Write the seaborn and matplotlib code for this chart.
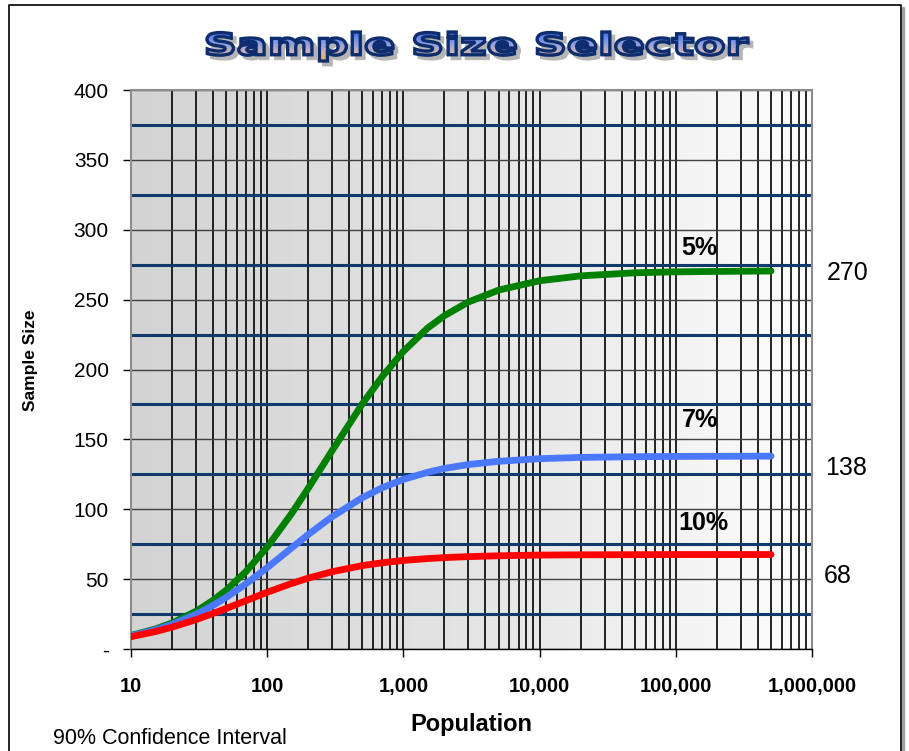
import numpy as np
import pandas as pd
import matplotlib
matplotlib.use('Agg')
import matplotlib.pyplot as plt
import matplotlib.ticker as mticker
from matplotlib.textpath import TextPath
from matplotlib.patches import PathPatch
from matplotlib.font_manager import FontProperties
from matplotlib.colors import LinearSegmentedColormap
from matplotlib.transforms import Affine2D
import seaborn as sns

# --- data ---
population = [10, 15, 20, 30, 40, 50, 70, 100, 150, 200, 300, 500, 700, 1000,
              1500, 2000, 3000, 5000, 10000, 20000, 50000, 100000, 500000]
size_5 = [9.7, 14.2, 18.6, 27.0, 34.8, 42.1, 55.5, 73.0, 96.5, 115.0, 142.0, 175.5,
          195.0, 213.0, 229.5, 238.5, 248.3, 256.8, 263.5, 267.0, 269.2, 269.9, 270.5]
size_7 = [9.4, 13.6, 17.6, 24.8, 31.2, 36.9, 46.7, 58.2, 72.1, 81.9, 94.7, 108.3,
          115.4, 121.4, 126.4, 129.2, 132.0, 134.3, 136.2, 137.1, 137.6, 137.8, 138.0]
size_10 = [8.8, 12.4, 15.6, 21.0, 25.4, 29.0, 34.6, 40.6, 46.8, 50.7, 55.3, 59.7,
           61.7, 63.4, 64.7, 65.4, 66.1, 66.7, 67.2, 67.4, 67.5, 67.6, 67.6]
margins = ['5%', '7%', '10%']
end_values = ['270', '138', '68']
colors = {'5%': '#008000', '7%': '#4a78ff', '10%': '#ff0000'}

df = pd.concat([
    pd.DataFrame({'population': population, 'sample_size': s, 'margin': m})
    for m, s in zip(margins, [size_5, size_7, size_10])
])

sns.set_style('white')
plt.rcParams['font.family'] = ['Liberation Sans', 'DejaVu Sans']
plt.rcParams['text.color'] = 'black'
plt.rcParams['xtick.color'] = 'black'
plt.rcParams['ytick.color'] = 'black'

fig = plt.figure(figsize=(9.09, 7.51), dpi=100)
ax = fig.add_axes([131 / 909, 102 / 751, 681 / 909, 559 / 751])

# background gradient (grey left -> almost white right)
grad = np.linspace(0, 1, 256).reshape(1, -1)
bg = LinearSegmentedColormap.from_list('bg', ['#d3d3d3', '#e4e4e4', '#fdfdfd'])
ax.imshow(grad, extent=[0, 1, 0, 1], transform=ax.transAxes, aspect='auto',
          cmap=bg, zorder=0, interpolation='bilinear')

ax.set_xscale('log')
ax.set_xlim(10, 1e6)
ax.set_ylim(0, 400)

# grid
ax.yaxis.set_major_locator(mticker.MultipleLocator(50))
ax.yaxis.set_minor_locator(mticker.FixedLocator(np.arange(25, 400, 50)))
ax.xaxis.set_major_locator(mticker.LogLocator(base=10))
ax.xaxis.set_minor_locator(mticker.LogLocator(base=10, subs=np.arange(2, 10)))
ax.grid(which='both', axis='x', color='black', lw=1.2, zorder=1)
ax.grid(which='major', axis='y', color='#404040', lw=1.0, zorder=1)
ax.grid(which='minor', axis='y', color='#0f3a6b', lw=2.2, zorder=1)
ax.set_axisbelow(True)

sns.lineplot(data=df, x='population', y='sample_size', hue='margin',
             hue_order=margins, palette=colors, linewidth=4.9, legend=False,
             ax=ax, zorder=3, solid_capstyle='round')

# ticks
ax.xaxis.set_major_formatter(mticker.FuncFormatter(lambda v, p: f'{v:,.0f}'))
ax.yaxis.set_major_formatter(mticker.FuncFormatter(lambda v, p: '-' if v == 0 else f'{v:.0f}'))
ax.tick_params(axis='both', which='major', direction='out', length=6, width=1,
               color='black', bottom=True, left=True)
ax.tick_params(axis='both', which='minor', length=0)
ax.tick_params(axis='x', pad=14, labelsize=14.5)
ax.tick_params(axis='y', pad=10, labelsize=15)
for lab in ax.get_xticklabels():
    lab.set_fontweight('bold')

for side in ['left', 'top', 'right']:
    ax.spines[side].set_color('#8c8c8c')
    ax.spines[side].set_linewidth(1.5)
ax.spines['bottom'].set_color('black')
ax.spines['bottom'].set_linewidth(1.0)

ax.set_xlabel('')
ax.set_ylabel('')

# series labels and end values
label_pos = [(1.5e5, 287), (1.5e5, 164), (1.6e5, 90)]
for (x, y), m in zip(label_pos, margins):
    ax.text(x, y, m, fontsize=18, fontweight='bold', ha='center', va='center')
value_pos = [(848, 269), (846, 129.5), (838, 52.5)]
for (px, y), val in zip(value_pos, end_values):
    ax.annotate(val, xy=(1, y), xycoords=('axes fraction', 'data'),
                xytext=(px - 812, 0), textcoords='offset pixels',
                fontsize=18, ha='center', va='center', annotation_clip=False)

fig.text(471 / 909, 1 - 724 / 751, 'Population', fontsize=17, fontweight='bold',
         family=['Liberation Sans Narrow', 'Liberation Sans'], ha='center', va='center')
fig.text(31 / 909, 1 - 360 / 751, 'Sample Size', fontsize=12.5, fontweight='bold',
         family=['Liberation Sans Narrow', 'Liberation Sans'], rotation=90,
         ha='center', va='center')
fig.text(53 / 909, 1 - 739 / 751, '90% Confidence Interval', fontsize=15.5,
         ha='left', va='center')

# outer frame
ov = fig.add_axes([0, 0, 1, 1], zorder=10)
ov.axis('off')
ov.patch.set_alpha(0)
ov.plot([903, 903], [8, 760], color='#a0a0a0', lw=2.5)
ov.plot([9, 9, 901, 901], [760, 5, 5, 760], color='black', lw=1.2)

# WordArt-style title: gradient fill, navy outline, grey shadow
tp = TextPath((0, 0), 'Sample Size Selector', size=10,
              prop=FontProperties(family='DejaVu Sans', weight='bold'))
bb = tp.get_extents()
x0, x1, y0, y1 = 207, 748, 32, 61
tr = Affine2D().translate(-bb.x0, -bb.y0).scale((x1 - x0) / bb.width,
                                                 -(y1 - y0) / bb.height).translate(x0, y1)
tpath = tr.transform_path(tp)
shadow = PathPatch(Affine2D().translate(4, 4).transform_path(tpath),
                   facecolor='#b5b5b5', edgecolor='#b5b5b5', lw=2.0, zorder=1)
ov.add_patch(shadow)
fill = PathPatch(tpath, facecolor='none', edgecolor='none', zorder=2)
ov.add_patch(fill)
tcm = LinearSegmentedColormap.from_list('t', ['#3a6ae8', '#7f98e6', '#c9b2b8', '#f3b54c'])
tg = np.linspace(0, 1, 64).reshape(-1, 1)
im = ov.imshow(tg, extent=[x0, x1, y1 + 1, y0 - 1], cmap=tcm, aspect='auto', zorder=2)
im.set_clip_path(fill)
outline = PathPatch(tpath, facecolor='none', edgecolor='#0d2d6e', lw=2.4, zorder=3)
ov.add_patch(outline)
ov.set_xlim(0, 909)
ov.set_ylim(751, 0)

fig.savefig('out.png', dpi=100)
